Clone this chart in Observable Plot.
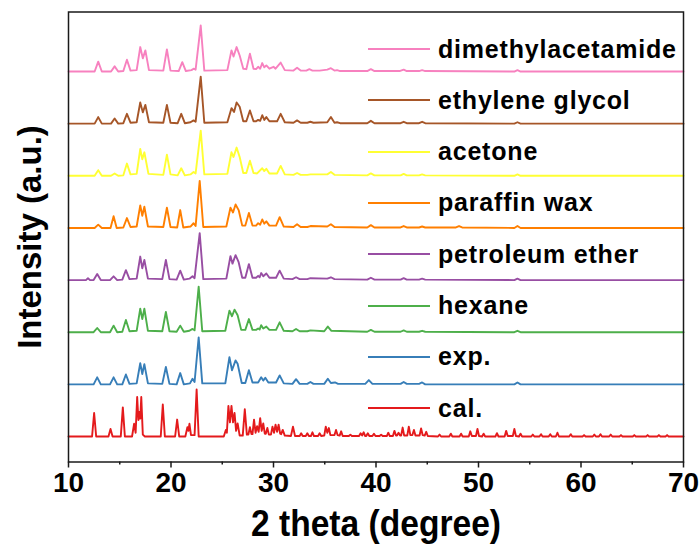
<!DOCTYPE html>
<html><head><meta charset="utf-8">
<script src="https://cdn.jsdelivr.net/npm/d3@7"></script>
<script src="https://cdn.jsdelivr.net/npm/@observablehq/plot@0.6"></script>
<style>
body{margin:0;background:#fff}
#wrap{position:relative;width:700px;height:545px}
#legend{position:absolute;left:368px;top:0}
.row{position:absolute;left:0;display:flex;align-items:center;height:30px;white-space:nowrap}
.row .sw{width:62px;height:2px;margin-right:8px}
.row span{font:bold 25px "Liberation Sans",Arial,sans-serif;letter-spacing:0.8px;color:#000}
</style>
</head><body>
<div id="wrap"></div>
<script>
// Series names (bottom to top) and colours
const names = ["cal.","exp.","hexane","petroleum ether","paraffin wax","acetone","ethylene glycol","dimethylacetamide"];
const colors = ["#e41a1c","#377eb8","#4daf4a","#984ea3","#ff7f00","#ffff33","#a65628","#f781bf"];
const majorTicks = [10,20,30,40,50,60,70];
const minorTicks = [15,25,35,45,55,65];
const xTitle = "2 theta (degree)";
const yTitle = "Intensity (a.u.)";

// Each series: flat list of [2theta, relative intensity] vertices
const cal = [10,0, 12.3,0, 12.5,50, 12.7,0, 13.9,0, 14.1,16, 14.3,0, 15.1,0, 15.3,62, 15.5,0,
 16.2,0, 16.4,27, 16.55,8, 16.7,84, 16.82,35, 16.92,52, 17.0,38, 17.1,84, 17.25,4, 17.45,0,
 19.0,0, 19.2,68, 19.4,0, 20.4,0, 20.6,36, 20.8,0, 21.4,0, 21.6,20, 21.7,12, 21.8,27, 21.95,3, 22.3,3, 22.5,100, 22.7,0,
 25.15,0, 25.35,14, 25.45,8, 25.6,65, 25.75,30, 25.9,65, 26.05,30, 26.2,50, 26.35,12, 26.5,28, 26.7,2,
 27.0,2, 27.2,58, 27.4,4, 27.55,4, 27.7,20, 27.85,5, 27.95,5, 28.1,36, 28.25,8, 28.4,22, 28.55,10, 28.7,39, 28.85,12, 29.0,28, 29.15,6,
 29.25,6, 29.4,18, 29.55,4, 29.75,4, 29.9,21, 30.05,8, 30.2,25, 30.35,10, 30.5,25, 30.65,6, 30.75,5, 30.9,14, 31.1,2,
 31.7,1, 31.9,21, 32.1,1, 32.55,1, 32.7,7, 32.85,1, 33.15,1, 33.3,7, 33.45,1, 33.65,1, 33.8,9, 33.95,1, 34.35,1, 34.5,7, 34.65,1,
 34.95,2, 35.1,21, 35.25,8, 35.4,18, 35.55,3, 35.95,3, 36.1,14, 36.25,3, 36.45,2, 36.6,11, 36.75,1, 37.35,1, 37.5,4, 37.65,1,
 38.35,1, 38.5,7, 38.65,2, 38.8,9, 38.95,1, 39.05,1, 39.2,7, 39.35,1, 39.65,1, 39.8,6, 39.95,1,
 40.35,1, 40.5,4, 40.65,1, 41.05,1, 41.2,8, 41.35,1, 41.65,1, 41.8,12, 41.95,2, 42.05,2, 42.2,8, 42.35,2, 42.45,2, 42.6,19, 42.75,2,
 43.05,2, 43.2,21, 43.35,3, 43.55,3, 43.7,14, 43.85,2, 44.25,2, 44.4,17, 44.55,3, 44.75,2, 44.9,10, 45.05,1,
 46.05,0, 46.2,4, 46.35,0, 47.15,0, 47.3,6, 47.45,0, 48.15,0, 48.3,6, 48.45,0, 49.05,0, 49.2,11, 49.35,1, 49.75,1, 49.9,16, 50.05,1, 50.35,0, 50.5,6, 50.65,0,
 51.65,0, 51.8,7, 51.95,0, 52.55,0, 52.7,12, 52.85,1, 53.35,1, 53.5,16, 53.65,1, 53.95,0, 54.1,6, 54.25,0,
 55.15,0, 55.3,4, 55.45,0, 55.95,0, 56.1,5, 56.25,0, 56.85,0, 57.0,5, 57.15,0, 57.55,0, 57.7,8, 57.85,0, 58.85,0, 59.0,5, 59.15,0,
 60.15,0, 60.3,3, 60.45,0, 61.15,0, 61.3,4, 61.45,0, 61.75,0, 61.9,5, 62.05,0, 62.75,0, 62.9,4, 63.05,0, 63.75,0, 63.9,3, 64.05,0,
 65.05,0, 65.2,3, 65.35,0, 66.35,0, 66.5,3, 66.65,0, 67.45,0, 67.6,3, 67.75,0, 68.25,0, 68.4,3, 68.55,0, 70,0];

const exp = [10,0, 12.45,0, 12.8,15, 13.15,0, 14.05,0, 14.4,15, 14.75,0, 15.25,0, 15.6,21, 15.95,1, 16.65,2, 17.0,45, 17.2,22, 17.4,43, 17.75,2,
 19.15,1, 19.5,37, 19.85,1, 20.55,0, 20.9,24, 21.25,0, 21.85,2, 22.1,12, 22.3,5, 22.7,100, 23.05,2, 25.3,2, 25.7,58, 25.95,30, 26.3,51, 26.5,44, 26.9,3,
 27.25,3, 27.6,30, 27.95,4, 28.5,4, 28.8,15, 29.0,8, 29.2,14, 29.5,4, 30.25,4, 30.6,19, 31.0,2, 31.85,1, 32.2,11, 32.55,1, 33.3,1, 33.6,5, 33.9,1,
 34.95,1, 35.3,12, 35.6,3, 36.0,4, 36.3,1, 38.95,1, 39.3,9, 39.65,1, 42.4,1, 42.7,5, 43.0,1, 44.2,1, 44.5,4, 44.8,0, 53.5,0, 53.8,4, 54.1,0, 70,0];

const hexane = [10,0, 12.45,0, 12.8,9, 13.15,0, 14.05,0, 14.4,14, 14.75,0, 15.25,1, 15.6,26, 15.95,2, 16.65,3, 17.0,50, 17.2,28, 17.4,50, 17.75,3,
 19.15,2, 19.5,43, 19.85,2, 20.55,1, 20.9,14, 21.25,1, 21.8,3, 22.1,7, 22.3,4, 22.7,97, 23.05,2, 25.3,3, 25.7,46, 25.95,34, 26.2,48, 26.5,36, 26.85,5,
 27.25,5, 27.6,28, 27.95,5, 28.3,5, 28.5,8, 28.65,6, 28.8,15, 29.0,8, 29.3,12, 29.6,5, 30.25,5, 30.6,21, 31.0,3, 31.85,2, 32.2,7, 32.55,2, 33.3,2, 33.6,4,
 34.95,2, 35.3,12, 35.65,3, 39.15,1, 39.5,5, 39.85,1, 42.4,1, 42.7,4, 43.0,1, 44.2,1, 44.5,3, 44.8,1, 53.5,0, 53.8,3, 54.1,0, 70,0];

const petroleumEther = [10,0, 11.7,0, 11.9,4, 12.1,0, 12.45,0, 12.8,13, 13.15,0, 14.05,0, 14.4,8, 14.75,0, 15.25,1, 15.6,21, 15.95,2, 16.65,3, 17.0,50, 17.2,25, 17.4,43, 17.75,3,
 19.15,2, 19.5,43, 19.85,2, 20.55,1, 20.9,20, 21.25,1, 21.8,3, 22.1,8, 22.3,4, 22.8,100, 23.15,2, 25.4,3, 25.8,51, 26.0,35, 26.3,53, 26.6,38, 26.95,5,
 27.25,5, 27.6,34, 27.95,5, 28.3,5, 28.5,9, 28.65,6, 28.8,15, 29.0,8, 29.3,14, 29.6,5, 30.25,5, 30.6,20, 31.0,3, 31.85,2, 32.2,6, 32.55,2, 33.3,2, 33.6,4,
 35.25,3, 35.6,6, 35.95,2, 39.15,1, 39.5,5, 39.85,1, 42.4,1, 42.7,4, 43.0,1, 44.2,1, 44.5,3, 44.8,1, 53.5,0, 53.8,3, 54.1,0, 70,0];

const paraffinWax = [10,0, 12.55,0, 12.9,7, 13.25,0, 14.1,0, 14.4,25, 14.7,0, 15.35,1, 15.7,21, 16.05,2, 16.65,3, 17.0,48, 17.2,26, 17.4,45, 17.75,3,
 19.25,2, 19.6,43, 19.95,2, 20.6,1, 20.9,38, 21.2,1, 21.9,3, 22.2,10, 22.4,4, 22.8,100, 23.15,2, 25.4,3, 25.8,43, 26.05,33, 26.3,50, 26.6,38, 26.95,5,
 27.25,5, 27.6,32, 27.95,5, 28.3,5, 28.5,10, 28.7,7, 28.9,18, 29.1,9, 29.3,14, 29.6,5, 30.25,5, 30.6,23, 31.0,3, 31.95,2, 32.3,8, 32.65,2, 33.3,2, 33.6,4,
 35.25,3, 35.6,8, 35.95,2, 39.15,1, 39.5,6, 39.85,1, 42.4,1, 42.7,4, 43.0,1, 44.2,1, 44.5,3, 44.8,1, 47.8,1, 48.1,4, 48.4,1, 53.5,0, 53.8,4, 54.1,0, 70,0];

const acetone = [10,0, 12.55,0, 12.9,12, 13.25,0, 14.15,0, 14.5,5, 14.85,0, 15.35,1, 15.7,26, 16.05,3, 16.65,4, 17.0,57, 17.2,35, 17.4,50, 17.8,4,
 19.25,2, 19.6,45, 19.95,3, 20.65,1, 21.0,16, 21.35,1, 21.9,3, 22.2,8, 22.4,5, 22.9,96, 23.25,3, 25.5,4, 25.9,50, 26.1,40, 26.4,60, 26.7,40, 27.05,6,
 27.35,6, 27.7,32, 28.05,6, 28.4,5, 28.9,16, 29.1,10, 29.3,15, 29.6,5, 30.35,5, 30.7,21, 31.1,3, 31.95,2, 32.3,6, 32.65,2, 33.3,2, 33.6,3,
 35.25,3, 35.6,8, 35.95,2, 39.15,1, 39.5,5, 39.85,1, 42.4,1, 42.7,4, 43.0,1, 44.2,1, 44.5,3, 44.8,1, 53.5,0, 53.8,3, 54.1,0, 70,0];

const ethyleneGlycol = [10,0, 12.55,0, 12.9,14, 13.25,0, 14.15,0, 14.5,11, 14.85,0, 15.35,1, 15.7,21, 16.05,2, 16.65,3, 17.0,45, 17.25,24, 17.5,40, 17.85,3,
 19.25,2, 19.6,40, 19.95,2, 20.65,1, 21.0,21, 21.35,1, 21.9,3, 22.2,7, 22.4,4, 22.9,100, 23.25,2, 25.5,3, 25.9,33, 26.15,25, 26.4,45, 26.7,36, 27.05,5,
 27.35,5, 27.7,28, 28.05,5, 28.3,5, 28.5,8, 28.7,6, 28.9,18, 29.1,8, 29.3,14, 29.6,5, 30.35,5, 30.7,21, 31.1,3, 31.95,2, 32.3,7, 32.65,2, 33.3,2, 33.6,4, 33.9,2,
 35.25,3, 35.6,14, 35.95,2, 36.2,3, 36.5,1, 39.15,1, 39.5,6, 39.85,1, 42.4,1, 42.7,4, 43.0,1, 44.2,1, 44.5,4, 44.8,1, 53.5,0, 53.8,3, 54.1,0, 70,0];

const dimethylacetamide = [10,0, 12.55,0, 12.9,21, 13.25,0, 14.15,0, 14.5,11, 14.85,0, 15.35,1, 15.7,25, 16.05,2, 16.65,3, 17.0,52, 17.25,28, 17.5,45, 17.85,3,
 19.25,2, 19.6,47, 19.95,2, 20.75,1, 21.1,20, 21.45,1, 22.0,3, 22.2,6, 22.4,4, 22.9,98, 23.25,2, 25.5,3, 25.9,45, 26.1,32, 26.4,52, 26.7,34, 27.05,6,
 27.35,5, 27.7,38, 28.05,6, 28.3,5, 28.5,10, 28.7,6, 28.9,18, 29.1,9, 29.3,13, 29.6,6, 30.0,10, 30.2,6, 30.7,19, 31.1,3, 31.95,2, 32.3,8, 32.65,2,
 33.2,2, 33.5,5, 33.8,2, 34.5,2, 35.25,4, 35.6,7, 35.95,2, 36.2,3, 36.5,1, 39.15,1, 39.5,5, 39.85,1, 42.3,1, 42.7,4, 43.0,1, 44.2,1, 44.5,3, 44.8,1, 53.5,0, 53.8,3, 54.1,0, 70,0];

const seriesData = [cal, exp, hexane, petroleumEther, paraffinWax, acetone, ethyleneGlycol, dimethylacetamide];

// stacking (layout)
const BASE = 25.5, STEP = 52.14, SCALE = 0.47;
const rows = [];
seriesData.forEach((arr, i) => {
  for (let k = 0; k < arr.length; k += 2) rows.push({s: names[i], i, x: arr[k], v: arr[k + 1]});
});

const sans = '"Liberation Sans",Arial,sans-serif';

const chart = Plot.plot({
  width: 700, height: 545,
  marginLeft: 68, marginRight: 17, marginTop: 11.5, marginBottom: 83.5,
  style: {background: "#fff", color: "#000", overflow: "visible"},
  x: {domain: [10, 70]},
  y: {domain: [0, 450], axis: null},
  color: {domain: names, range: colors},
  marks: [
    Plot.line(rows, {x: "x", y: d => BASE + d.i * STEP + d.v * SCALE, z: "s", stroke: "s", strokeWidth: 1.9, curve: "linear", strokeLinejoin: "round"}),
    Plot.frame({stroke: "#1a1a1a", strokeWidth: 1.5}),
    Plot.axisX({ticks: majorTicks, tickSize: 6, tickPadding: 4, label: null, stroke: "#1a1a1a", strokeWidth: 1.5,
      fontSize: 28, fontWeight: "bold", fontFamily: sans, ariaLabel: "major-ticks"}),
    Plot.axisX({ticks: minorTicks, tickSize: 3, tickFormat: () => "", label: null, stroke: "#1a1a1a", strokeWidth: 1.5}),
    Plot.text([yTitle], {frameAnchor: "left", rotate: -90, dx: -38, textAnchor: "middle", lineAnchor: "middle",
      fontSize: 33, fontWeight: "bold", fontFamily: sans, fill: "#000"}),
    Plot.text([xTitle], {frameAnchor: "bottom", dy: 62, textAnchor: "middle", lineAnchor: "middle",
      fontSize: 37, fontWeight: "bold", fontFamily: sans, fill: "#000", className: "xtitle"})
  ]
});

// condense the axis texts horizontally like the original (narrow bold face)
d3.select(chart).selectAll('g[aria-label="x-axis tick label"] text')
  .attr("textLength", 27).attr("lengthAdjust", "spacingAndGlyphs");
d3.select(chart).selectAll("g.xtitle text, .xtitle text")
  .attr("textLength", 250).attr("lengthAdjust", "spacingAndGlyphs");

const wrap = document.getElementById("wrap");
wrap.appendChild(chart);

// legend overlay
const legend = document.createElement("div");
legend.id = "legend";
const order = names.map((n, i) => i).reverse();
order.forEach((idx, r) => {
  const row = document.createElement("div");
  row.className = "row";
  row.style.top = (49 + r * 51.3 - 15) + "px";
  const sw = document.createElement("div");
  sw.className = "sw";
  sw.style.background = colors[idx];
  const t = document.createElement("span");
  t.textContent = names[idx];
  row.appendChild(sw); row.appendChild(t);
  legend.appendChild(row);
});
wrap.appendChild(legend);
</script>
</body></html>
